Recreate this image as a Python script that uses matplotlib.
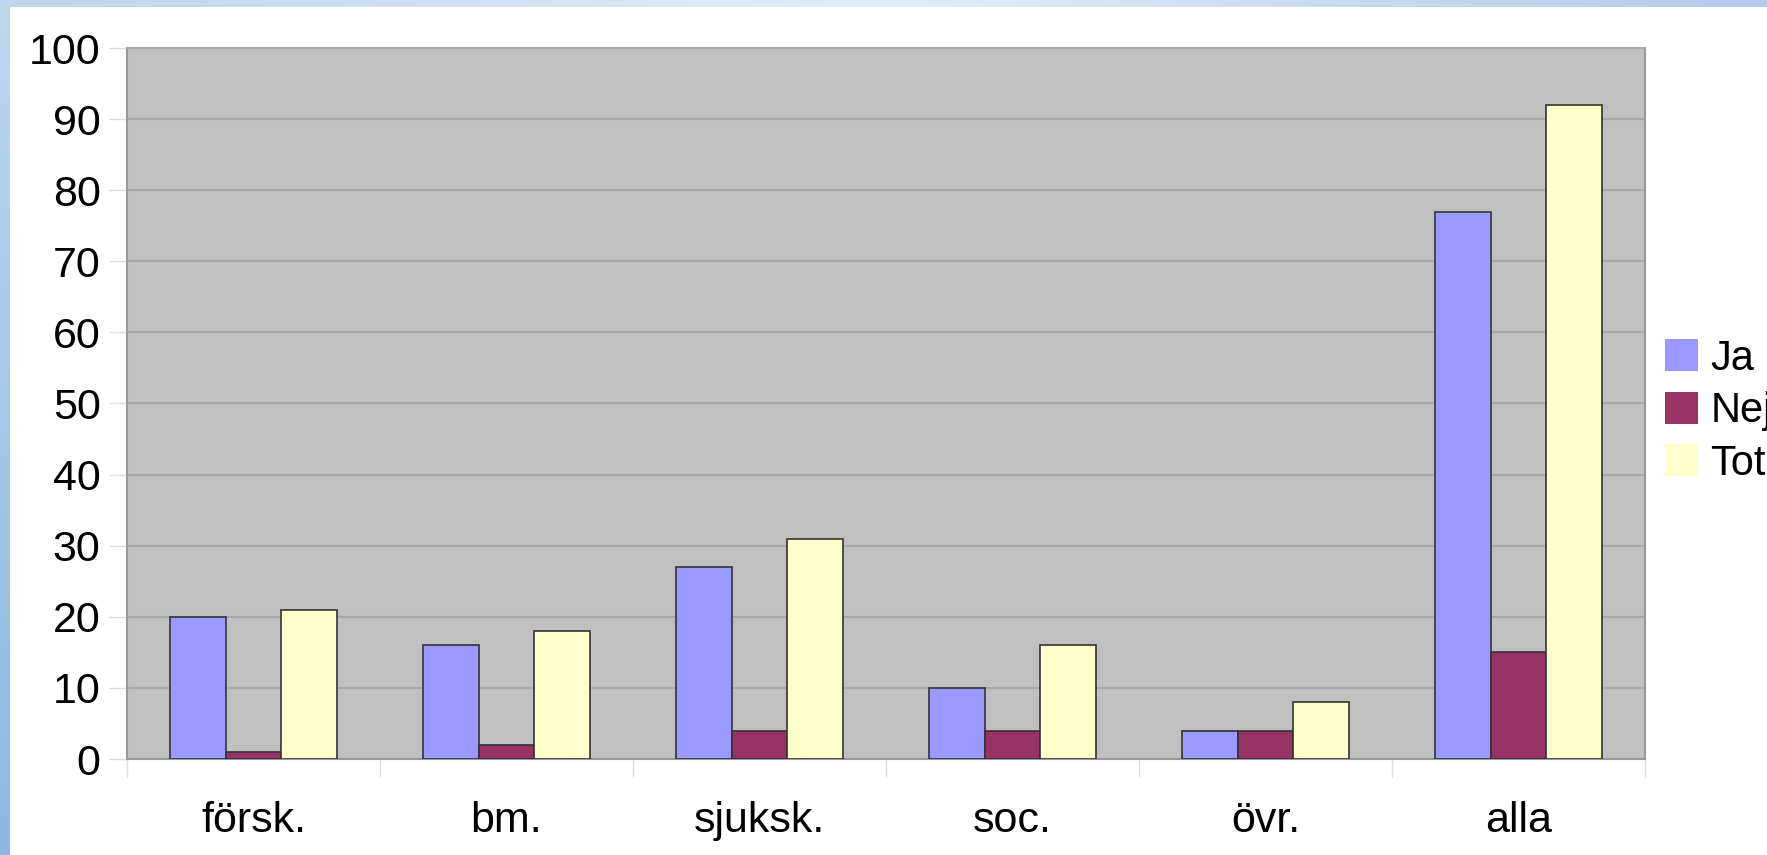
import numpy as np
import matplotlib.pyplot as plt
from matplotlib.patches import Patch

categories = ['försk.', 'bm.', 'sjuksk.', 'soc.', 'övr.', 'alla']
ja = [20, 16, 27, 10, 4, 77]
nej = [1, 2, 4, 4, 4, 15]
tot = [21, 18, 31, 16, 8, 92]
series_names = ['Ja', 'Nej', 'Tot']
series_colors = ['#9999FF', '#993366', '#FFFFCC']

plt.rcParams['font.family'] = ['Liberation Sans', 'DejaVu Sans']

W, H = 1767, 855
fig = plt.figure(figsize=(W / 100, H / 100), dpi=100)
fig.patch.set_facecolor('white')

# blue frame bands (top and left) like the slide background
bg = fig.add_axes([0, 0, 1, 1], zorder=-10)
bg.set_axis_off()
top = np.linspace(0, 1, 200)
top_rgb = np.zeros((1, 200, 3))
left_c = np.array([0.74, 0.84, 0.93])
mid_c = np.array([0.88, 0.93, 0.98])
right_c = np.array([0.69, 0.80, 0.91])
for i, t in enumerate(top):
    if t < 0.5:
        top_rgb[0, i] = left_c + (mid_c - left_c) * (t / 0.5)
    else:
        top_rgb[0, i] = mid_c + (right_c - mid_c) * ((t - 0.5) / 0.5)
bg.imshow(top_rgb, extent=[0, 1, 1 - 7 / H, 1], aspect='auto', transform=bg.transAxes)
side = np.linspace(0, 1, 200)
side_rgb = np.zeros((200, 1, 3))
s_top = np.array([0.74, 0.84, 0.93])
s_bot = np.array([0.55, 0.72, 0.89])
for i, t in enumerate(side):
    side_rgb[i, 0] = s_top + (s_bot - s_top) * t
bg.imshow(side_rgb, extent=[0, 10 / W, 0, 1], aspect='auto', transform=bg.transAxes)
bg.set_xlim(0, 1)
bg.set_ylim(0, 1)

ax = fig.add_axes([127 / W, 1 - 759 / H, (1645 - 127) / W, (759 - 48) / H])
ax.set_facecolor('#C0C0C0')

x = np.arange(len(categories))
bw = 0.22
for k, (vals, name, col) in enumerate(zip([ja, nej, tot], series_names, series_colors)):
    ax.bar(x + (k - 1) * bw, vals, bw, color=col, edgecolor='#333333',
           linewidth=1.2, label=name, zorder=3)

ax.set_xlim(-0.5, len(categories) - 0.5)
ax.set_ylim(0, 100)
ax.set_yticks(np.arange(0, 101, 10))
ax.yaxis.grid(True, color='#A8A8A8', linewidth=1.5, zorder=1)
ax.set_axisbelow(True)

ax.set_xticks(np.arange(-0.5, len(categories), 1.0))
ax.set_xticklabels([])
ax.set_xticks(x, minor=True)
ax.set_xticklabels(categories, minor=True)
ax.tick_params(axis='x', which='major', direction='out', length=13, width=1,
               color='#DDDDDD')
ax.tick_params(axis='x', which='minor', length=0, pad=30, labelsize=31)
ax.tick_params(axis='y', direction='out', length=13, width=1, color='#DDDDDD',
               pad=6, labelsize=31)

for sp in ['left', 'right']:
    ax.spines[sp].set_color('#999999')
    ax.spines[sp].set_linewidth(1.5)
ax.spines['top'].set_color('#AAAAAA')
ax.spines['top'].set_linewidth(1.5)
ax.spines['bottom'].set_color('#999999')
ax.spines['bottom'].set_linewidth(1.5)

handles = [Patch(facecolor=c, edgecolor='none') for c in series_colors]
fig.legend(handles, series_names, loc='upper left',
           bbox_to_anchor=(1648 / W, 1 - 322 / H), frameon=False,
           fontsize=30, handlelength=0.8, handleheight=0.8,
           handletextpad=0.3, labelspacing=0.3, borderaxespad=0)

fig.savefig('out.png', dpi=100)
